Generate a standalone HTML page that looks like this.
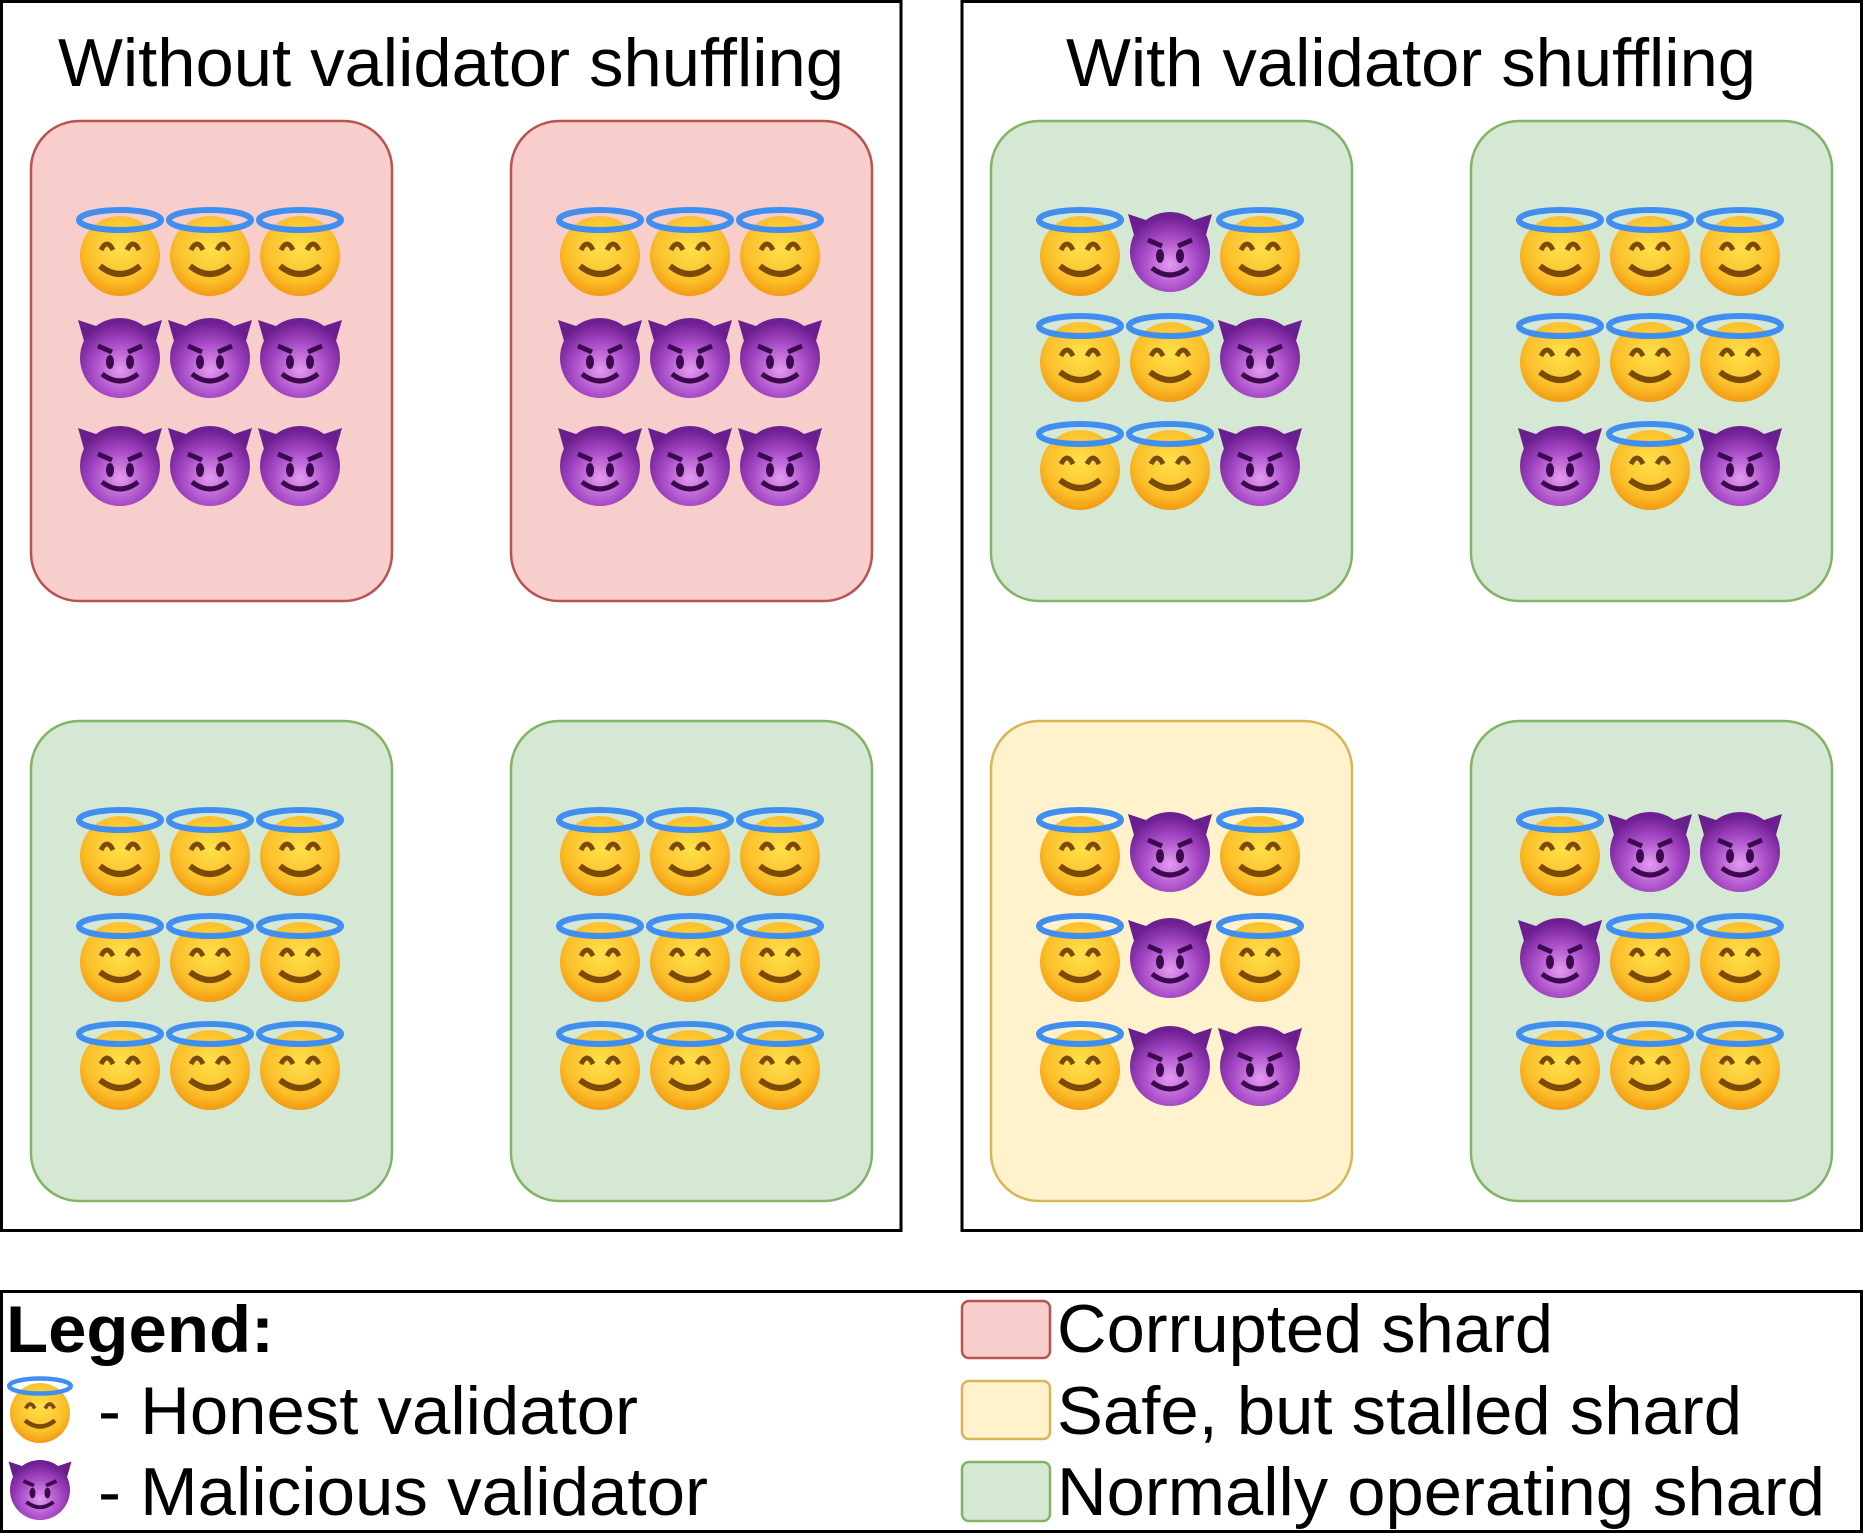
<!DOCTYPE html>
<html><head><meta charset="utf-8"><style>html,body{margin:0;padding:0;background:#fff}svg{display:block}</style></head>
<body>
<svg width="1863" height="1533" viewBox="0 0 1863 1533" xmlns="http://www.w3.org/2000/svg" font-family="Liberation Sans, Arial, sans-serif">
<defs>
<radialGradient id="gy" cx="50%" cy="40%" r="60%"><stop offset="0" stop-color="#ffe14a"/><stop offset="0.7" stop-color="#fbbf2a"/><stop offset="1" stop-color="#f29a12"/></radialGradient>
<radialGradient id="gp" cx="50%" cy="65%" r="60%"><stop offset="0" stop-color="#e39af0"/><stop offset="0.6" stop-color="#a447c4"/><stop offset="1" stop-color="#6e1f91"/></radialGradient>
<g id="H">
<circle cx="0" cy="4" r="40" fill="url(#gy)"/>
<path d="M-19,-2 q6,-12 12,0" stroke="#7a4a08" stroke-width="5" fill="none"/>
<path d="M7,-2 q6,-12 12,0" stroke="#7a4a08" stroke-width="5" fill="none"/>
<path d="M-20,14 q20,16 40,0" stroke="#7a4a08" stroke-width="6" fill="none"/>
<ellipse cx="0" cy="-32" rx="41" ry="10" fill="none" stroke="#3f8ef0" stroke-width="6"/>
</g>
<g id="D">
<path d="M-42,-38 L-18,-30 L-34,-10 Z" fill="#6a1f8e"/>
<path d="M42,-38 L18,-30 L34,-10 Z" fill="#6a1f8e"/>
<circle cx="0" cy="0" r="40" fill="url(#gp)"/>
<path d="M-22,-12 L-8,-6" stroke="#3a0a4c" stroke-width="5"/>
<path d="M22,-12 L8,-6" stroke="#3a0a4c" stroke-width="5"/>
<ellipse cx="-10" cy="4" rx="4" ry="7" fill="#3a0a4c"/>
<ellipse cx="10" cy="4" rx="4" ry="7" fill="#3a0a4c"/>
<path d="M-18,16 q18,14 36,0" stroke="#3a0a4c" stroke-width="5" fill="none"/>
</g>
</defs>

<rect x="1.5" y="1.5" width="899.5" height="1229" fill="#fff" stroke="#000" stroke-width="3"/>
<rect x="962" y="1.5" width="899.5" height="1229" fill="#fff" stroke="#000" stroke-width="3"/>
<text x="451" y="86" font-size="68" text-anchor="middle" textLength="786" lengthAdjust="spacingAndGlyphs">Without validator shuffling</text>
<text x="1411" y="86" font-size="68" text-anchor="middle" textLength="690" lengthAdjust="spacingAndGlyphs">With validator shuffling</text>

<g stroke-width="2.5">
<rect x="31" y="121" width="361" height="480" rx="48" fill="#f8cecc" stroke="#b85450"/>
<rect x="511" y="121" width="361" height="480" rx="48" fill="#f8cecc" stroke="#b85450"/>
<rect x="31" y="721" width="361" height="480" rx="48" fill="#d5e8d4" stroke="#82b366"/>
<rect x="511" y="721" width="361" height="480" rx="48" fill="#d5e8d4" stroke="#82b366"/>
<rect x="991" y="121" width="361" height="480" rx="48" fill="#d5e8d4" stroke="#82b366"/>
<rect x="1471" y="121" width="361" height="480" rx="48" fill="#d5e8d4" stroke="#82b366"/>
<rect x="991" y="721" width="361" height="480" rx="48" fill="#fff2cc" stroke="#d6b656"/>
<rect x="1471" y="721" width="361" height="480" rx="48" fill="#d5e8d4" stroke="#82b366"/>
</g>

<!-- box L1 -->
<use href="#H" x="120" y="252"/><use href="#H" x="210" y="252"/><use href="#H" x="300" y="252"/>
<use href="#D" x="120" y="358"/><use href="#D" x="210" y="358"/><use href="#D" x="300" y="358"/>
<use href="#D" x="120" y="466"/><use href="#D" x="210" y="466"/><use href="#D" x="300" y="466"/>
<!-- box L2 -->
<use href="#H" x="600" y="252"/><use href="#H" x="690" y="252"/><use href="#H" x="780" y="252"/>
<use href="#D" x="600" y="358"/><use href="#D" x="690" y="358"/><use href="#D" x="780" y="358"/>
<use href="#D" x="600" y="466"/><use href="#D" x="690" y="466"/><use href="#D" x="780" y="466"/>
<!-- box L3 -->
<use href="#H" x="120" y="852"/><use href="#H" x="210" y="852"/><use href="#H" x="300" y="852"/>
<use href="#H" x="120" y="958"/><use href="#H" x="210" y="958"/><use href="#H" x="300" y="958"/>
<use href="#H" x="120" y="1066"/><use href="#H" x="210" y="1066"/><use href="#H" x="300" y="1066"/>
<!-- box L4 -->
<use href="#H" x="600" y="852"/><use href="#H" x="690" y="852"/><use href="#H" x="780" y="852"/>
<use href="#H" x="600" y="958"/><use href="#H" x="690" y="958"/><use href="#H" x="780" y="958"/>
<use href="#H" x="600" y="1066"/><use href="#H" x="690" y="1066"/><use href="#H" x="780" y="1066"/>
<!-- box R1 -->
<use href="#H" x="1080" y="252"/><use href="#D" x="1170" y="252"/><use href="#H" x="1260" y="252"/>
<use href="#H" x="1080" y="358"/><use href="#H" x="1170" y="358"/><use href="#D" x="1260" y="358"/>
<use href="#H" x="1080" y="466"/><use href="#H" x="1170" y="466"/><use href="#D" x="1260" y="466"/>
<!-- box R2 -->
<use href="#H" x="1560" y="252"/><use href="#H" x="1650" y="252"/><use href="#H" x="1740" y="252"/>
<use href="#H" x="1560" y="358"/><use href="#H" x="1650" y="358"/><use href="#H" x="1740" y="358"/>
<use href="#D" x="1560" y="466"/><use href="#H" x="1650" y="466"/><use href="#D" x="1740" y="466"/>
<!-- box R3 -->
<use href="#H" x="1080" y="852"/><use href="#D" x="1170" y="852"/><use href="#H" x="1260" y="852"/>
<use href="#H" x="1080" y="958"/><use href="#D" x="1170" y="958"/><use href="#H" x="1260" y="958"/>
<use href="#H" x="1080" y="1066"/><use href="#D" x="1170" y="1066"/><use href="#D" x="1260" y="1066"/>
<!-- box R4 -->
<use href="#H" x="1560" y="852"/><use href="#D" x="1650" y="852"/><use href="#D" x="1740" y="852"/>
<use href="#D" x="1560" y="958"/><use href="#H" x="1650" y="958"/><use href="#H" x="1740" y="958"/>
<use href="#H" x="1560" y="1066"/><use href="#H" x="1650" y="1066"/><use href="#H" x="1740" y="1066"/>

<!-- legend -->
<rect x="1.5" y="1291.5" width="1860" height="240" fill="#fff" stroke="#000" stroke-width="3"/>
<text x="6" y="1352" font-size="66" font-weight="bold" textLength="268" lengthAdjust="spacingAndGlyphs">Legend:</text>
<g transform="translate(40,1410) scale(0.75)"><use href="#H"/></g>
<text x="98" y="1434" font-size="68" textLength="540" lengthAdjust="spacingAndGlyphs">- Honest validator</text>
<g transform="translate(40,1490) scale(0.75)"><use href="#D"/></g>
<text x="98" y="1515" font-size="68" textLength="610" lengthAdjust="spacingAndGlyphs">- Malicious validator</text>

<rect x="962" y="1301" width="88" height="57" rx="7" fill="#f8cecc" stroke="#b85450" stroke-width="2.5"/>
<rect x="962" y="1381" width="88" height="58" rx="7" fill="#fff2cc" stroke="#d6b656" stroke-width="2.5"/>
<rect x="962" y="1462" width="88" height="59" rx="7" fill="#d5e8d4" stroke="#82b366" stroke-width="2.5"/>
<text x="1057" y="1352" font-size="68" textLength="496" lengthAdjust="spacingAndGlyphs">Corrupted shard</text>
<text x="1057" y="1434" font-size="68" textLength="685" lengthAdjust="spacingAndGlyphs">Safe, but stalled shard</text>
<text x="1057" y="1515" font-size="68" textLength="768" lengthAdjust="spacingAndGlyphs">Normally operating shard</text>
</svg>
</body></html>
